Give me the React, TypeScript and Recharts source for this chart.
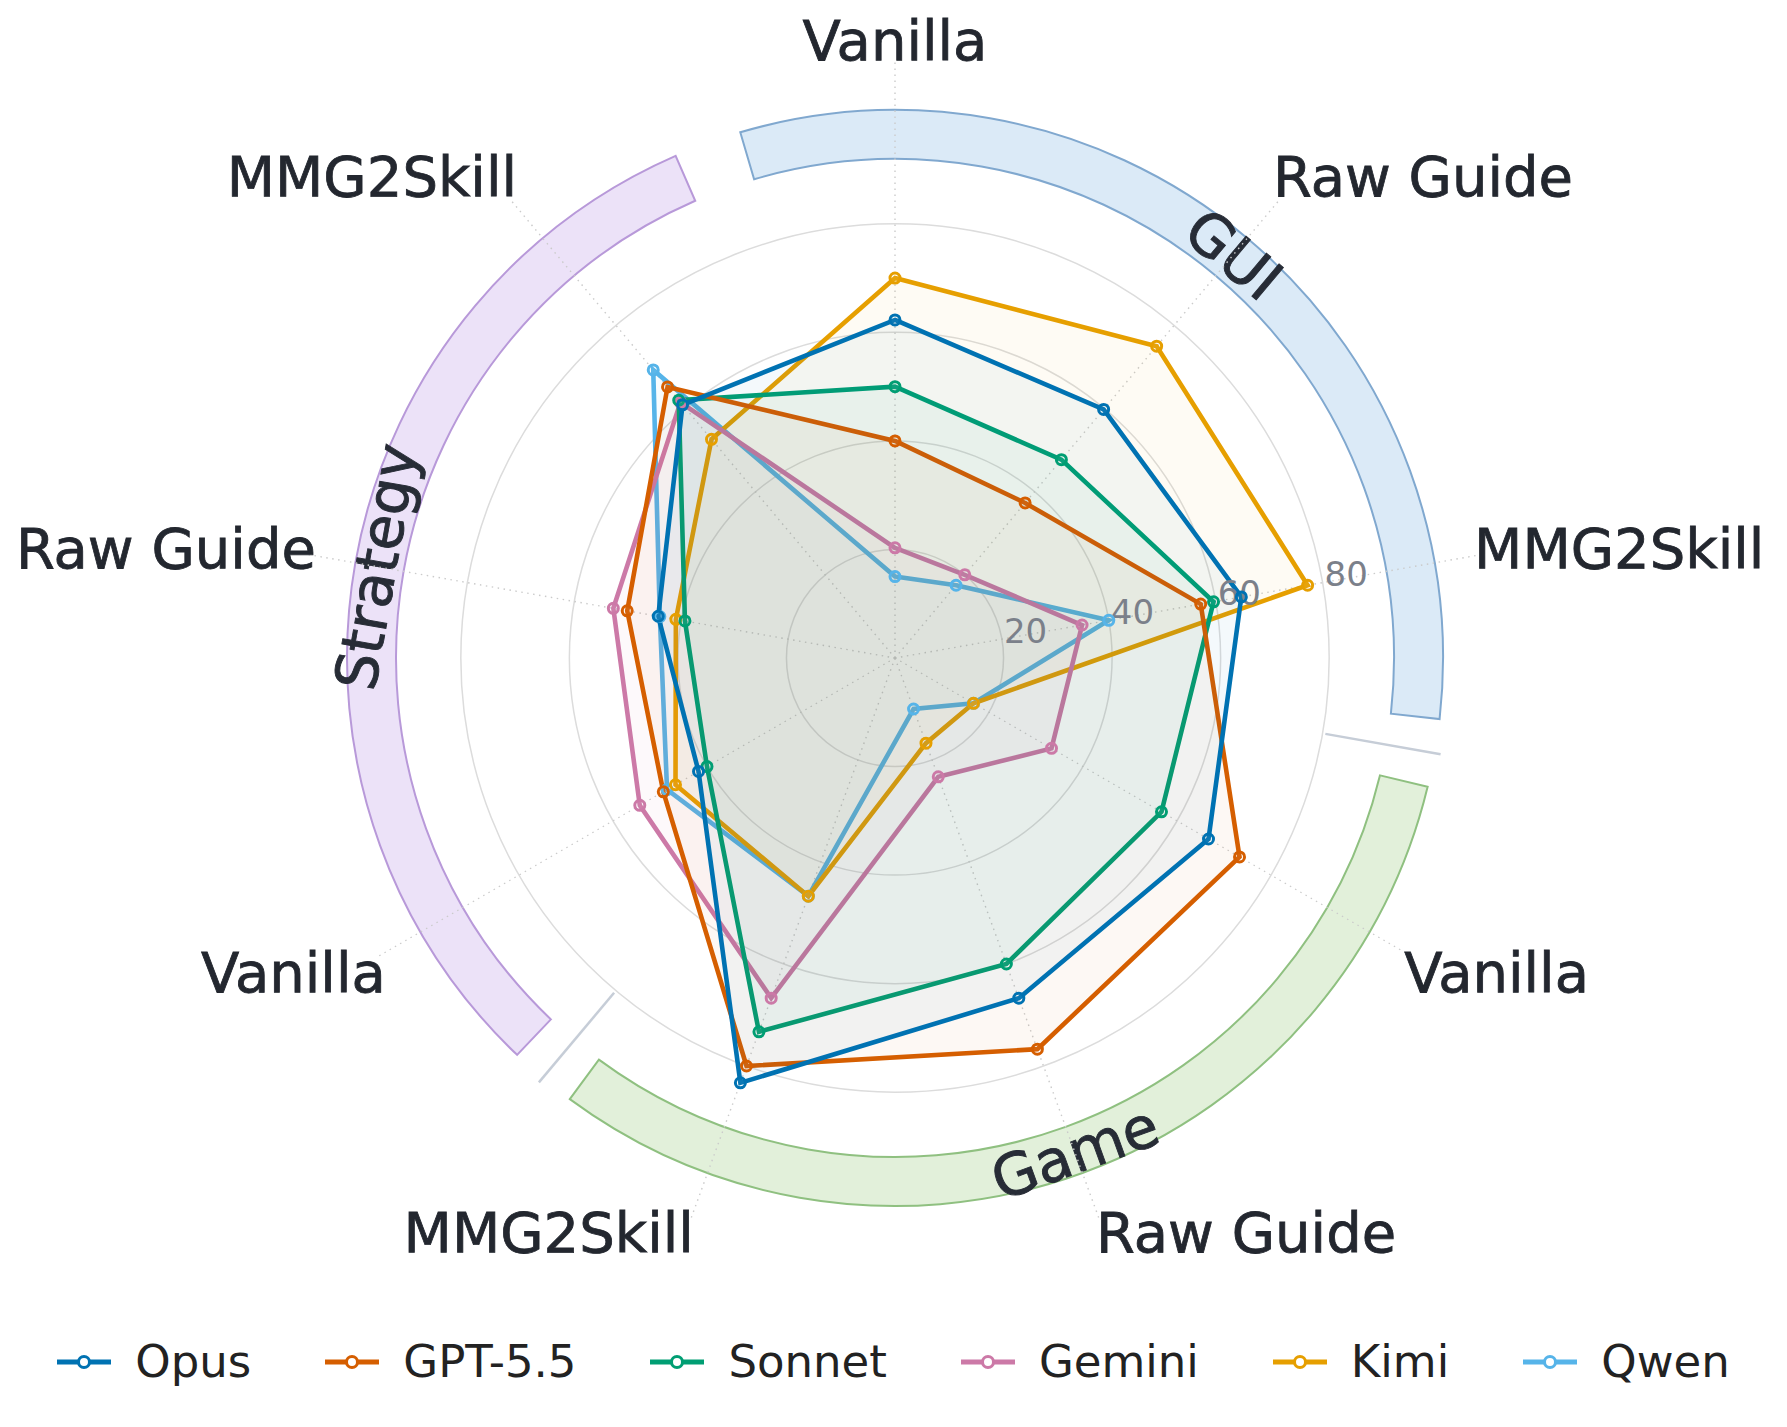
import React from 'react';
import {
  RadarChart,
  Radar,
  PolarGrid,
  PolarAngleAxis,
  PolarRadiusAxis,
  Legend,
  PieChart,
  Pie,
  Cell,
} from 'recharts';

// ---------------- data ----------------
const groups = ['GUI', 'Game', 'Strategy'];
const methods = ['Vanilla', 'Raw Guide', 'MMG2Skill'];

// values per axis, clockwise from top: GUI(V,R,M), Game(V,R,M), Strategy(V,R,M)
const opus = [62.3, 59.8, 64.8, 66.7, 66.7, 83.3, 41.8, 44.3, 60.9];
const gpt55 = [40.0, 37.3, 57.2, 73.3, 76.7, 80.0, 49.3, 50.1, 65.2];
const sonnet = [50.0, 47.7, 59.6, 56.7, 60.0, 73.3, 40.0, 39.3, 62.0];
const gemini = [20.3, 20.0, 35.0, 33.3, 23.3, 66.7, 54.3, 52.7, 61.5];
const kimi = [70.0, 75.0, 77.2, 16.7, 16.7, 46.7, 46.7, 41.0, 52.6];
const qwen = [15.0, 17.5, 40.0, 16.7, 10.0, 46.7, 48.5, 44.0, 69.3];

const seriesNames = ['Opus', 'GPT-5.5', 'Sonnet', 'Gemini', 'Kimi', 'Qwen'];
const seriesValues = [opus, gpt55, sonnet, gemini, kimi, qwen];
const seriesColors = ['#0072B2', '#D55E00', '#009E73', '#CC79A7', '#E69F00', '#56B4E9'];

const radialTicks = [0, 20, 40, 60, 80];
const radialMax = 110;

const groupFills = ['#dbeaf7', '#e2f0da', '#ece2f8'];
const groupStrokes = ['#80a8cf', '#8fc080', '#b899d9'];

// ---------------- layout / style ----------------
const W = 1771;
const H = 1411;
const CX = 887;
const CY = 650;
const OUTER = 597;
const BAND_IN = 499;
const BAND_OUT = 548;
const FONT = '"DejaVu Sans", "Noto Sans", sans-serif';
const TEXT_DARK = '#23272f';

const data = groups.flatMap((g, gi) =>
  methods.map((m, mi) => {
    const row: any = { key: `${g}|${m}` };
    seriesNames.forEach((s, si) => {
      row[s] = seriesValues[si][gi * methods.length + mi];
    });
    return row;
  })
);

const bandData = groups.map((g) => ({ name: g, value: methods.length }));
const slot = 360 / groups.length;
const pad = 7.2;
const firstCenter = 90 - 360 / data.length; // middle axis of first group
const bandStart = firstCenter + slot / 2 - pad / 2;

// ---------------- custom renderers ----------------
const AngleTick = (props: any) => {
  const { x, y, payload } = props;
  const dx = x - CX;
  const dy = y - CY;
  const len = Math.hypot(dx, dy) || 1;
  const ux = dx / len;
  const uy = dy / len;
  const sin = -uy;
  const ry = sin > 0.95 ? 618 : sin < -0.9 ? 611 : 629;
  const lx = CX + 588 * ux;
  const ly = CY + ry * uy;
  const anchor = ux > 0.1 ? 'start' : ux < -0.1 ? 'end' : 'middle';
  const label = String(payload.value).split('|')[1];
  return (
    <text
      x={lx}
      y={ly}
      textAnchor={anchor}
      dominantBaseline="central"
      fontSize={56}
      fill={TEXT_DARK}
      stroke={TEXT_DARK}
      strokeWidth={0.8}
      fontFamily={FONT}
    >
      {label}
    </text>
  );
};

const RadiusTick = (props: any) => {
  const { x, y, payload } = props;
  if (!payload || Number(payload.value) === 0) return <g />;
  const dx = x - CX;
  const dy = y - CY;
  const r = Math.hypot(dx, dy) || 1;
  const ux = dx / r;
  const uy = dy / r;
  return (
    <text
      x={CX + (r + 24) * ux}
      y={CY + (r + 24) * uy - 4}
      textAnchor="middle"
      dominantBaseline="central"
      fontSize={34}
      fill="#7b808a"
      fontFamily={FONT}
    >
      {payload.value}
    </text>
  );
};

const BandLabel = (props: any) => {
  const { cx, cy, midAngle, innerRadius, outerRadius, index, name } = props;
  const RAD = Math.PI / 180;
  const r = (innerRadius + outerRadius) / 2 + 3;
  const x = cx + r * Math.cos(-midAngle * RAD);
  const y = cy + r * Math.sin(-midAngle * RAD);
  let rot = 90 - midAngle;
  while (rot > 180) rot -= 360;
  while (rot <= -180) rot += 360;
  if (rot > 90) rot -= 180;
  if (rot < -90) rot += 180;
  const sep = (midAngle - slot / 2) * RAD;
  const r1 = 437;
  const r2 = 554;
  return (
    <g>
      {index < groups.length - 1 && (
        <line
          x1={cx + r1 * Math.cos(-sep)}
          y1={cy + r1 * Math.sin(-sep)}
          x2={cx + r2 * Math.cos(-sep)}
          y2={cy + r2 * Math.sin(-sep)}
          stroke="#c6cdd7"
          strokeWidth={2.5}
        />
      )}
      <text
        x={x}
        y={y}
        textAnchor="middle"
        dominantBaseline="central"
        fontSize={58}
        fill="#272c36"
        stroke="#272c36"
        strokeWidth={0.9}
        fontFamily={FONT}
        transform={`rotate(${rot}, ${x}, ${y})`}
      >
        {name ?? groups[index]}
      </text>
    </g>
  );
};

const LegendContent = (props: any) => {
  const payload = [...(props.payload || [])].sort(
    (a: any, b: any) => seriesNames.indexOf(a.value) - seriesNames.indexOf(b.value)
  );
  return (
    <div
      style={{
        display: 'flex',
        justifyContent: 'center',
        alignItems: 'center',
        gap: 74,
        height: 60,
      }}
    >
      {payload.map((p: any) => {
        const color = seriesColors[seriesNames.indexOf(p.value)] || p.color;
        return (
          <div key={p.value} style={{ display: 'flex', alignItems: 'center' }}>
            <svg width={54} height={20} style={{ display: 'block' }}>
              <line x1={0} y1={10} x2={54} y2={10} stroke={color} strokeWidth={5} />
              <circle cx={27} cy={10} r={5.5} fill="#fff" stroke={color} strokeWidth={3} />
            </svg>
            <span
              style={{
                marginLeft: 24,
                fontFamily: FONT,
                fontSize: 45,
                color: '#222',
                lineHeight: '60px',
              }}
            >
              {p.value}
            </span>
          </div>
        );
      })}
    </div>
  );
};

const drawOrder = [5, 4, 3, 2, 1, 0];

export default function App() {
  return (
    <div style={{ position: 'relative', width: W, height: H }}>
      <div style={{ position: 'absolute', left: 0, top: 0 }}>
        <PieChart width={W} height={H} margin={{ top: 0, right: 0, bottom: 0, left: 0 }}>
          <Pie
            data={bandData}
            dataKey="value"
            nameKey="name"
            cx={CX}
            cy={CY}
            innerRadius={BAND_IN}
            outerRadius={BAND_OUT}
            startAngle={bandStart}
            endAngle={bandStart - 360}
            paddingAngle={pad}
            isAnimationActive={false}
            label={BandLabel}
            labelLine={false}
          >
            {bandData.map((d, i) => (
              <Cell key={d.name} fill={groupFills[i]} stroke={groupStrokes[i]} strokeWidth={2} />
            ))}
          </Pie>
        </PieChart>
      </div>
      <div style={{ position: 'absolute', left: 0, top: 0 }}>
        <RadarChart
          width={W}
          height={H}
          data={data}
          cx={CX}
          cy={CY}
          outerRadius={OUTER}
          startAngle={90}
          endAngle={-270}
          margin={{ top: 0, right: 0, bottom: 0, left: 0 }}
        >
          <PolarGrid gridType="circle" radialLines={false} stroke="#dcdcdc" strokeWidth={1.5} />
          <PolarGrid
            gridType="circle"
            polarRadius={[]}
            stroke="#cbcbcb"
            strokeWidth={1.4}
            strokeDasharray="1.5 4.5"
          />
          <PolarAngleAxis dataKey="key" tick={AngleTick} axisLine={false} tickLine={false} />
          <PolarRadiusAxis
            angle={10}
            domain={[0, radialMax]}
            ticks={radialTicks}
            axisLine={false}
            tickLine={false}
            tick={RadiusTick}
          />
          {drawOrder.map((si) => (
            <Radar
              key={seriesNames[si]}
              name={seriesNames[si]}
              dataKey={seriesNames[si]}
              stroke={seriesColors[si]}
              strokeWidth={4.6}
              fill={seriesColors[si]}
              fillOpacity={0.045}
              dot={{ r: 5, fill: '#fff', stroke: seriesColors[si], strokeWidth: 3 }}
              isAnimationActive={false}
            />
          ))}
          <Legend
            content={LegendContent}
            wrapperStyle={{ top: 1324, left: 0, bottom: 'auto', width: W, height: 60 }}
          />
        </RadarChart>
      </div>
    </div>
  );
}
